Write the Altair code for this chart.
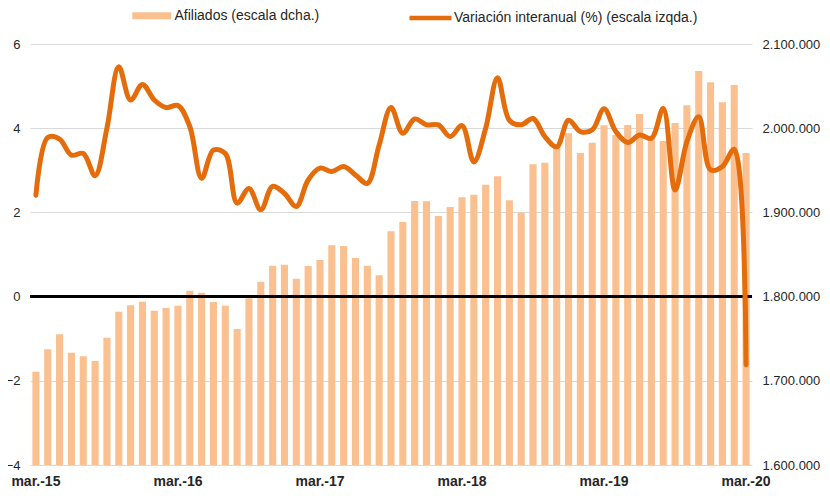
import altair as alt
import pandas as pd

# ---- data ----
MESES = ["ene.", "feb.", "mar.", "abr.", "may.", "jun.", "jul.", "ago.", "sep.", "oct.", "nov.", "dic."]
meses = [f"{MESES[(2 + k) % 12]}-{15 + (2 + k) // 12}" for k in range(61)]

afiliados = [
    1710800, 1737400, 1755200, 1733400, 1729100, 1723500, 1751200, 1782100, 1789700, 1794000,
    1783300, 1786500, 1789200, 1807000, 1804600, 1793600, 1789200, 1761500, 1798000, 1817700,
    1836700, 1837900, 1821300, 1836300, 1843500, 1860900, 1860100, 1845800, 1836700, 1825300,
    1877600, 1888600, 1913500, 1913200, 1895700, 1906400, 1917900, 1921000, 1932900, 1942900,
    1914400, 1899600, 1957100, 1959000, 1978000, 1994000, 1970500, 1982600, 2003600, 1992000,
    2003800, 2016900, 1987000, 1984800, 2006200, 2027400, 2067800, 2054500, 2030800, 2051300,
    1970500,
]

variacion = [
    2.41, 3.78, 3.74, 3.36, 3.40, 2.87, 4.00, 5.46, 4.67, 5.04,
    4.67, 4.49, 4.54, 4.04, 2.81, 3.48, 3.40, 2.22, 2.57, 2.06,
    2.62, 2.45, 2.14, 2.77, 3.05, 2.97, 3.09, 2.89, 2.69, 3.60,
    4.49, 3.88, 4.22, 4.08, 4.08, 3.80, 4.06, 3.20, 4.00, 5.20,
    4.19, 4.08, 4.23, 3.80, 3.56, 4.19, 3.92, 3.96, 4.46, 3.92,
    3.66, 3.84, 3.76, 4.47, 2.53, 3.68, 4.27, 3.01, 3.09, 3.50,
    -1.62,
]

ticks_izq = [-4, -2, 0, 2, 4, 6]
ticks_der = [1600000, 1700000, 1800000, 1900000, 2000000, 2100000]

serie_barras = "Afiliados (escala dcha.)"
serie_linea = "Variación interanual (%) (escala izqda.)"

df = pd.DataFrame({
    "mes": meses,
    "afiliados": afiliados,
    "variacion": variacion,
    "sb": [serie_barras] * len(meses),
    "sl": [serie_linea] * len(meses),
})
df_cero = pd.DataFrame({"cero": [0]})

FONT = "Liberation Sans"
TXT = "#262626"

x_enc = alt.X(
    "mes:N",
    sort=meses,
    scale=alt.Scale(paddingInner=0.4, paddingOuter=0.2),
    axis=alt.Axis(
        title=None,
        labelExpr="substring(datum.label, 0, 4) == 'mar.' ? datum.label : ''",
        labelAngle=0,
        labelOverlap=False,
        labelBaseline="alphabetic",
        ticks=False,
        domain=False,
        grid=False,
        labelFontWeight="bold",
        labelFontSize=14,
        labelPadding=20,
        labelColor=TXT,
        labelFont=FONT,
    ),
)

bars = alt.Chart(df).mark_bar(opacity=1, clip=True).encode(
    x=x_enc,
    y=alt.Y(
        "afiliados:Q",
        scale=alt.Scale(domain=[1600000, 2100000], nice=False, zero=False),
        axis=alt.Axis(
            orient="right",
            title=None,
            values=ticks_der,
            labelExpr="replace(replace(format(datum.value, ',.0f'), ',', '.'), ',', '.')",
            grid=False,
            ticks=False,
            domain=False,
            labelFontSize=13,
            labelPadding=10,
            labelColor=TXT,
            labelFont=FONT,
        ),
    ),
    fill=alt.Fill(
        "sb:N",
        scale=alt.Scale(domain=[serie_barras], range=["#FAC090"]),
        legend=alt.Legend(
            title=None,
            orient="none",
            legendX=111.75,
            legendY=-38.25,
            padding=0,
            symbolType="M-2,-0.36H2V0.36H-2Z",
            symbolSize=380.25,
            symbolStrokeWidth=0,
            labelFontSize=14,
            labelFont=FONT,
            labelColor=TXT,
            labelOffset=12.75,
            labelLimit=400,
        ),
    ),
)

rule = alt.Chart(df_cero).mark_rule(color="black", strokeWidth=3).encode(
    y=alt.Y("cero:Q", scale=alt.Scale(domain=[-4, 6], nice=False), axis=None)
)

line = alt.Chart(df).mark_line(
    strokeWidth=5, interpolate="catmull-rom", strokeCap="round", strokeJoin="round"
).encode(
    x=x_enc,
    y=alt.Y(
        "variacion:Q",
        scale=alt.Scale(domain=[-4, 6], nice=False),
        axis=alt.Axis(
            orient="left",
            title=None,
            values=ticks_izq,
            grid=True,
            gridColor="#d9d9d9",
            gridWidth=1,
            ticks=False,
            domain=False,
            labelFontSize=13,
            labelPadding=10,
            labelColor=TXT,
            labelFont=FONT,
        ),
    ),
    stroke=alt.Stroke(
        "sl:N",
        scale=alt.Scale(domain=[serie_linea], range=["#E46C0A"]),
        legend=alt.Legend(
            title=None,
            orient="none",
            legendX=387.5,
            legendY=-39,
            padding=0,
            symbolType="M-2,0H2",
            symbolSize=441,
            symbolStrokeWidth=4.5,
            labelFontSize=14,
            labelFont=FONT,
            labelColor=TXT,
            labelOffset=10.5,
            labelLimit=400,
        ),
    ),
)

chart = (
    alt.layer(bars, rule, line)
    .resolve_scale(y="independent", fill="independent", stroke="independent")
    .properties(
        width=722,
        height=421,
        autosize=alt.AutoSizeParams(type="none"),
        padding={"left": 22, "top": 36, "right": 70, "bottom": 23},
        background="white",
    )
    .configure_view(stroke=None)
)

chart.save("out.html", embed_options={"renderer": "svg", "actions": False})
